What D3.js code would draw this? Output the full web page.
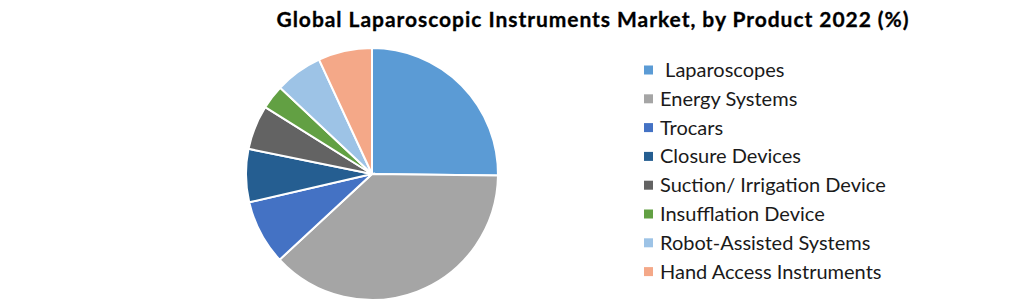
<!DOCTYPE html>
<html>
<head>
<meta charset="utf-8">
<script src="https://cdn.jsdelivr.net/npm/d3@7"></script>
<style>
  body { margin: 0; background: #fff; }
  svg { display: block; }
</style>
</head>
<body>
<svg id="chart" width="1020" height="303"></svg>
<script>
const title = 'Global Laparoscopic Instruments Market, by Product 2022 (%)'
const products = [' Laparoscopes', 'Energy Systems', 'Trocars', 'Closure Devices',
  'Suction/ Irrigation Device', 'Insufflation Device', 'Robot-Assisted Systems', 'Hand Access Instruments']
const shares = [25.2, 37.9, 8.3, 6.8, 5.7, 3.1, 6.1, 6.9]
const colors = ['#5b9bd5', '#a5a5a5', '#4472c4', '#255e91', '#636363', '#62a043', '#9dc3e6', '#f4a888']

const svg = d3.select('#chart')

svg.append('text')
  .attr('x', 593)
  .attr('y', 27)
  .attr('text-anchor', 'middle')
  .style('font-family', 'Lato, "Open Sans", sans-serif')
  .style('font-weight', 'bold')
  .style('font-size', '21px')
  .style('letter-spacing', '0.95px')
  .style('stroke', '#000')
  .style('stroke-width', '0.3px')
  .attr('fill', '#000')
  .text(title)

const data = products.map((p, i) => ({ name: p, value: shares[i], color: colors[i] }))

const pie = d3.pie().sort(null).value(d => d.value)
const arc = d3.arc().innerRadius(0).outerRadius(126)

svg.append('g')
  .attr('transform', 'translate(372,174)')
  .selectAll('path')
  .data(pie(data))
  .enter()
  .append('path')
  .attr('d', arc)
  .attr('fill', d => d.data.color)
  .attr('stroke', '#fff')
  .attr('stroke-width', 2)

// legend on the right, one row per product
const legend = svg.append('g')
  .attr('transform', 'translate(644,70)')

const rows = legend.selectAll('g')
  .data(data)
  .enter()
  .append('g')
  .attr('transform', (d, i) => `translate(0,${i * 28.8})`)

rows.append('rect')
  .attr('x', 0)
  .attr('y', -4.5)
  .attr('width', 9)
  .attr('height', 9)
  .attr('fill', d => d.color)

rows.append('text')
  .attr('x', 16)
  .attr('y', 0)
  .attr('dy', '0.35em')
  .style('font-family', 'Lato, "Open Sans", sans-serif')
  .style('font-size', '20px')
  .style('white-space', 'pre')
  .attr('fill', '#1a1a1a')
  .text(d => d.name)
</script>
</body>
</html>
